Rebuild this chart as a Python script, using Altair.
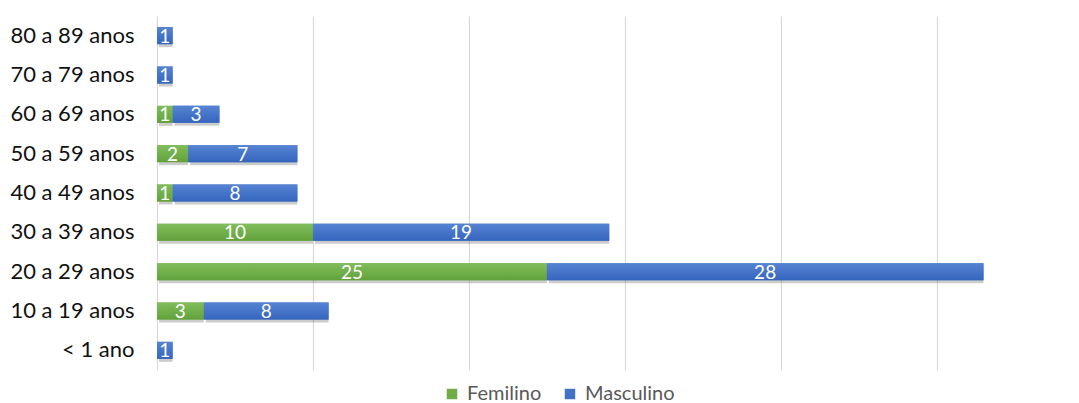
import altair as alt
import pandas as pd

# Age groups (top to bottom) and counts per sex
categories = ["80 a 89 anos", "70 a 79 anos", "60 a 69 anos", "50 a 59 anos",
              "40 a 49 anos", "30 a 39 anos", "20 a 29 anos", "10 a 19 anos", "< 1 ano"]
femilino = [0, 0, 1, 2, 1, 10, 25, 3, 0]
masculino = [1, 1, 3, 7, 8, 19, 28, 8, 1]
series = ["Femilino", "Masculino"]
colors = ["#70AD47", "#4472C4"]

rows = []
for cat, f, m in zip(categories, femilino, masculino):
    if f > 0:
        rows.append({"faixa": cat, "sexo": "Femilino", "valor": f, "ini": 0, "fim": f})
    if m > 0:
        rows.append({"faixa": cat, "sexo": "Masculino", "valor": m, "ini": f, "fim": f + m})
df = pd.DataFrame(rows)
df["meio"] = (df["ini"] + df["fim"]) / 2

FONT = "Lato"
BAR = 17

x_enc = alt.X("ini:Q", scale=alt.Scale(domain=[0, 59], nice=False, zero=True),
              axis=alt.Axis(values=[0, 10, 20, 30, 40, 50], labels=False, ticks=False,
                            domain=False, title=None, grid=True,
                            gridColor="#D9D9D9", gridWidth=1.2))
y_enc = alt.Y("faixa:N", sort=categories,
              scale=alt.Scale(paddingInner=0, paddingOuter=0),
              axis=alt.Axis(title=None, ticks=False, domain=False, labelPadding=23,
                            labelFont=FONT, labelFontSize=22, labelColor="#111111"))

base = alt.Chart(df)

shadow = base.mark_bar(size=BAR, color="#000000", opacity=0.2, xOffset=2, yOffset=3).encode(
    x=x_enc, x2="fim:Q", y=y_enc)

bars = base.mark_bar(size=BAR).encode(
    x=x_enc, x2="fim:Q", y=y_enc,
    color=alt.Color("sexo:N", scale=alt.Scale(domain=series, range=colors),
                    legend=alt.Legend(title=None, orient="none", direction="horizontal",
                                      legendX=285, legendY=368, padding=0,
                                      symbolType="square", symbolSize=110,
                                      symbolStrokeWidth=0, labelFont=FONT,
                                      labelFontSize=20, labelColor="#595959",
                                      columnPadding=18, labelOffset=5)))


def grad(top, bottom):
    return alt.Gradient(gradient="linear", x1=0, x2=0, y1=0, y2=1,
                        stops=[alt.GradientStop(color=top, offset=0),
                               alt.GradientStop(color=bottom, offset=1)])


green = base.transform_filter(alt.datum.sexo == "Femilino").mark_bar(
    size=BAR, color=grad("#80BD5C", "#62A23A")).encode(x=x_enc, x2="fim:Q", y=y_enc)
blue = base.transform_filter(alt.datum.sexo == "Masculino").mark_bar(
    size=BAR, color=grad("#5683D2", "#3565BE")).encode(x=x_enc, x2="fim:Q", y=y_enc)

labels = base.mark_text(color="white", font=FONT, fontSize=19, baseline="middle", dy=1).encode(
    x=alt.X("meio:Q"), y=y_enc, text="valor:Q")

chart = alt.layer(shadow, bars, green, blue, labels).properties(
    width=920, height=354,
    autosize=alt.AutoSizeParams(type="none"),
    padding={"left": 157, "top": 16, "right": 2, "bottom": 33},
    background="white",
).configure_view(stroke=None)

chart.save("out.html", embed_options={"renderer": "svg", "actions": False})
